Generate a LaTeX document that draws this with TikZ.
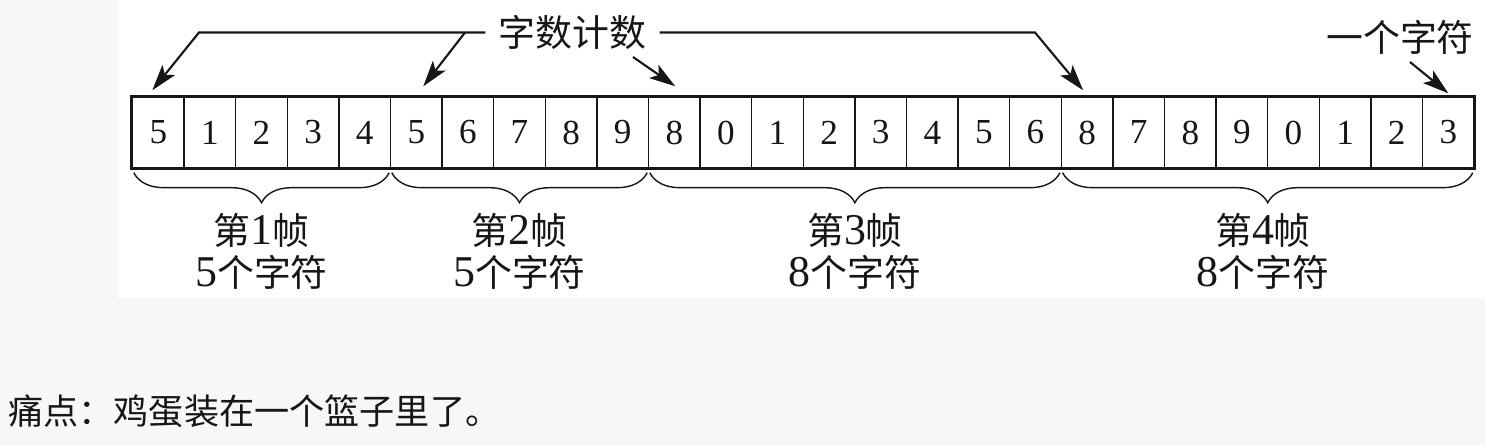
\documentclass[tikz,border=0pt]{standalone}
\usepackage{fontspec}
\setmainfont{Liberation Serif}
\newfontfamily\cjk{Noto Sans CJK SC}
\usetikzlibrary{positioning,arrows.meta,decorations.pathreplacing}
\definecolor{pagegrey}{RGB}{247,247,247}
\definecolor{inkblack}{RGB}{22,22,22}

\newcommand{\digitfont}{\rmfamily\fontsize{25}{24}\selectfont}
\newcommand{\framelabel}[2]{第{\digitfont #1}帧\\{\digitfont #2}个字符}

\tikzset{
  cellbox/.style={draw=inkblack, line width=0.8pt, minimum width=1.032cm, minimum height=1.42cm,
    inner sep=0pt, text=inkblack, font=\fontsize{20}{20}\selectfont},
  pointer/.style={draw=inkblack, line width=1.2pt, -{Stealth[length=0.52cm,width=0.32cm,inset=0.12cm]}},
  framebrace/.style={draw=inkblack, line width=0.8pt, decorate,
    decoration={brace, mirror, amplitude=0.6cm}},
  cjklabel/.style={font=\cjk\fontsize{21}{24}\selectfont, text=inkblack, inner sep=0pt},
  framelbl/.style={cjklabel, align=center, font=\cjk\fontsize{21}{23.9}\selectfont}
}

\begin{document}
\begin{tikzpicture}[x=0.02cm, y=-0.02cm]
% Basic parameters (pixel units, y downwards)
\def\cellw{51.6}
\def\rowy{132.5}

% Page background
\useasboundingbox (0,0) rectangle (1485,445);
\fill[pagegrey] (0,0) rectangle (1485,445);
\fill[white] (118,0) rectangle (1485,298);

% Draw the character cells
\foreach \d [count=\i from 0] in {5,1,2,3,4,5,6,7,8,9,8,0,1,2,3,4,5,6,8,7,8,9,0,1,2,3}
  \node[cellbox] (c\i) at ({158.3+\cellw*\i},\rowy) {\d};
\draw[inkblack, line width=1.7pt] (c0.north west) rectangle (c25.south east);

% Add top labels
\node[cjklabel, inner xsep=0.26cm] (count) at (572.5,32.5) {字数计数};
\node[cjklabel] (onechar) at (1400,37) {一个字符};

\coordinate (lbend)   at (199,32.5);
\coordinate (lfork)   at (465,32.5);
\coordinate (cntfoot) at (633,57);
\coordinate (rbend)   at (1035,32.5);
\coordinate (onefoot) at (1410,62);

% Count arrows
\draw[pointer] (count.west) -- (lbend) -- ([shift={(-6,-6)}]c0.north);
\draw[pointer] (lfork) -- ([shift={(7,-10)}]c5.north);
\draw[pointer] (cntfoot) -- ([shift={(1,-10)}]c10.north);
\draw[pointer] (count.east) -- (rbend) -- ([shift={(-4,-6)}]c18.north);
\draw[pointer] (onefoot) -- ([shift={(0,-3)}]c25.north);

% Add braces for the frames
\draw[framebrace] ([shift={(2,4)}]c0.south west) -- ([shift={(-2,4)}]c4.south east);
\draw[framebrace] ([shift={(2,4)}]c5.south west) -- ([shift={(-2,4)}]c9.south east);
\draw[framebrace] ([shift={(2,4)}]c10.south west) -- ([shift={(-2,4)}]c17.south east);
\draw[framebrace] ([shift={(2,4)}]c18.south west) -- ([shift={(-2,4)}]c25.south east);

% Add frame labels
\node[framelbl] (f1) at (261.5,251) {\framelabel{1}{5}};
\node[framelbl] (f2) at (519.5,251) {\framelabel{2}{5}};
\node[framelbl] (f3) at (855,251)   {\framelabel{3}{8}};
\node[framelbl] (f4) at (1263,251)  {\framelabel{4}{8}};

% Note below
\node[cjklabel, anchor=west, font=\cjk\fontsize{20}{24}\selectfont] (note) at (8,411) {痛点：鸡蛋装在一个篮子里了。};
\end{tikzpicture}
\end{document}
